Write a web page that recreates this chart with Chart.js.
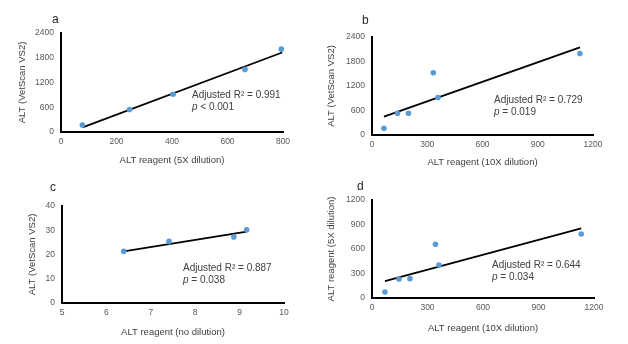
<!DOCTYPE html>
<html lang="en">
<head>
<meta charset="UTF-8">
<title>ALT comparisons</title>
<script src="https://cdn.jsdelivr.net/npm/chart.js@4.4.1/dist/chart.umd.min.js"></script>
<style>
    body { margin: 0; background: #fff; }
    .wrap { position: relative; width: 628px; height: 344px; }
    .wrap canvas { position: absolute; }
</style>
</head>
<body>
<div class="wrap">
    <canvas id="pa" width="314" height="172" style="left:0;top:0"></canvas>
    <canvas id="pb" width="314" height="172" style="left:314px;top:0"></canvas>
    <canvas id="pc" width="314" height="172" style="left:0;top:172px"></canvas>
    <canvas id="pd" width="314" height="172" style="left:314px;top:172px"></canvas>
</div>
<script>
// a: ALT reagent 5X vs VetScan
const aX = [77, 247, 404, 663, 794];
const aY = [171, 547, 914, 1518, 2008];
const aTrendX = [78, 797];
const aTrendY = [114, 1927];
// b: ALT reagent 10X vs VetScan
const bX = [65, 138, 198, 333, 358, 1129];
const bY = [165, 533, 533, 1523, 917, 1997];
const bTrendX = [65, 1129];
const bTrendY = [450, 2144];
// c: ALT reagent (no dilution) vs VetScan
const cX = [6.39, 7.41, 8.87, 9.16];
const cY = [21.3, 25.4, 27.2, 30.2];
const cTrendX = [6.39, 9.16];
const cTrendY = [21.3, 29.4];
// d: ALT reagent 10X vs 5X
const dX = [70, 146, 205, 343, 362, 1131];
const dY = [73, 233, 237, 658, 404, 784];
const dTrendX = [70, 1131];
const dTrendY = [208, 853];

// axis ranges [min, max, step]
const aXRange = [0, 800, 200], aYRange = [0, 2400, 600];
const bXRange = [0, 1200, 300], bYRange = [0, 2400, 600];
const cXRange = [5, 10, 1], cYRange = [0, 40, 10];
const dXRange = [0, 1200, 300], dYRange = [0, 1200, 300];

const FONT = '"Liberation Sans", Arial, sans-serif';

const notesPlugin = {
    id: 'notes',
    afterDraw(chart, args, o) {
        const ctx = chart.ctx;
        ctx.save();
        ctx.textBaseline = 'middle';
        ctx.textAlign = 'left';
        ctx.fillStyle = '#262626';
        ctx.font = '12px ' + FONT;
        ctx.fillText(o.letter, o.lx, o.ly);
        ctx.fillStyle = '#404040';
        ctx.font = '10px ' + FONT;
        ctx.fillText(o.r2, o.nx, o.ny);
        ctx.font = 'italic 10px ' + FONT;
        ctx.fillText('p', o.nx, o.ny + 12);
        const w = ctx.measureText('p').width;
        ctx.font = '10px ' + FONT;
        ctx.fillText(o.p, o.nx + w, o.ny + 12);
        ctx.restore();
    }
};

function toPts(xs, ys) {
    return xs.map((x, i) => ({ x: x, y: ys[i] }));
}

function panel(id, xs, ys, tx, ty, xr, yr, p) {
    new Chart(document.getElementById(id), {
        type: 'scatter',
        data: {
            datasets: [
                {
                    data: toPts(tx, ty),
                    showLine: true,
                    borderColor: '#000',
                    borderWidth: 1.8,
                    pointRadius: 0,
                    clip: false,
                    order: 2
                },
                {
                    data: toPts(xs, ys),
                    backgroundColor: '#5B9BD5',
                    borderWidth: 0,
                    pointRadius: 2.8,
                    clip: false,
                    order: 1
                }
            ]
        },
        options: {
            responsive: false,
            animation: false,
            layout: { padding: { left: 0, top: p.top, right: 314 - p.right, bottom: 0 } },
            plugins: {
                legend: { display: false },
                tooltip: { enabled: false },
                notes: p.notes
            },
            scales: {
                x: {
                    min: xr[0], max: xr[1],
                    grid: { display: false, drawTicks: false },
                    border: { display: true, color: '#000', width: 2 },
                    ticks: {
                        stepSize: xr[2], padding: 5, color: '#595959',
                        font: { family: FONT, size: 8.5 },
                        callback: v => String(v)
                    },
                    title: {
                        display: true, text: p.xTitle, color: '#404040',
                        font: { family: FONT, size: 9.5 },
                        padding: { top: 0, bottom: p.xtPad }
                    },
                    afterFit: s => { s.height = 172 - p.bottom; }
                },
                y: {
                    min: yr[0], max: yr[1],
                    grid: { display: false, drawTicks: false },
                    border: { display: true, color: '#000', width: 2 },
                    ticks: {
                        stepSize: yr[2], padding: 7, color: '#595959',
                        font: { family: FONT, size: 8.5 },
                        callback: v => String(v)
                    },
                    title: {
                        display: true, text: p.yTitle, color: '#404040',
                        font: { family: FONT, size: 9.5 },
                        padding: { top: p.ytPad, bottom: 0 }
                    },
                    afterFit: s => { s.width = p.left; }
                }
            }
        },
        plugins: [notesPlugin]
    });
}

panel('pa', aX, aY, aTrendX, aTrendY, aXRange, aYRange, {
    left: 61, right: 283, top: 33, bottom: 132, xtPad: 5.5, ytPad: 17,
    xTitle: 'ALT reagent (5X dilution)', yTitle: 'ALT (VetScan VS2)',
    notes: { letter: 'a', lx: 52, ly: 20, r2: 'Adjusted R\u00B2 = 0.991', p: ' < 0.001', nx: 192, ny: 95 }
});
panel('pb', bX, bY, bTrendX, bTrendY, bXRange, bYRange, {
    left: 58, right: 279, top: 37, bottom: 135, xtPad: 3.5, ytPad: 12,
    xTitle: 'ALT reagent (10X dilution)', yTitle: 'ALT (VetScan VS2)',
    notes: { letter: 'b', lx: 48, ly: 21, r2: 'Adjusted R\u00B2 = 0.729', p: ' = 0.019', nx: 180, ny: 100 }
});
panel('pc', cX, cY, cTrendX, cTrendY, cXRange, cYRange, {
    left: 62, right: 284, top: 34, bottom: 131, xtPad: 6, ytPad: 27,
    xTitle: 'ALT reagent (no dilution)', yTitle: 'ALT (VetScan VS2)',
    notes: { letter: 'c', lx: 50, ly: 16, r2: 'Adjusted R\u00B2 = 0.887', p: ' = 0.038', nx: 183, ny: 96 }
});
panel('pd', dX, dY, dTrendX, dTrendY, dXRange, dYRange, {
    left: 58, right: 280, top: 28, bottom: 126, xtPad: 10, ytPad: 12,
    xTitle: 'ALT reagent (10X dilution)', yTitle: 'ALT reagent (5X dilution)',
    notes: { letter: 'd', lx: 43, ly: 15, r2: 'Adjusted R\u00B2 = 0.644', p: ' = 0.034', nx: 178, ny: 93 }
});
</script>
</body>
</html>
